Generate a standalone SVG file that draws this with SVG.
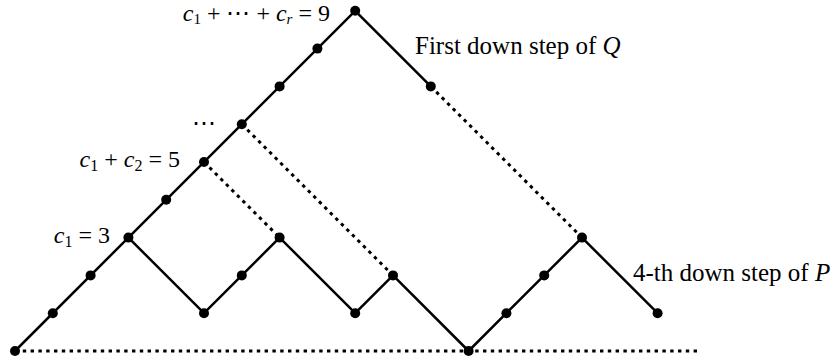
<svg xmlns="http://www.w3.org/2000/svg" width="836" height="363" viewBox="0 0 836 363">
<style>
.solid{fill:none;stroke:#000;stroke-width:2.5;stroke-linejoin:round}
.dot{fill:none;stroke:#000;stroke-width:3;stroke-dasharray:3.4 4.4}
.n{fill:#000}
text{font-family:"Liberation Serif","DejaVu Serif",serif;font-size:24px;fill:#000}
.t{font-size:25px}
.m{font-style:italic}
</style>
<rect width="836" height="363" fill="#fff"/>
<g id="connectors">
<polyline class="solid" points="15,351 128.4,237.6 204,313.2 279.6,237.6 355.2,313.2 393,275.4 468.6,351 582,237.6 657.6,313.2"/>
<polyline class="solid" points="128.4,237.6 355.2,10.8 430.8,86.4"/>
<line class="dot" x1="430.8" y1="86.4" x2="582" y2="237.6"/>
<line class="dot" x1="241.8" y1="124.2" x2="393" y2="275.4"/>
<line class="dot" x1="204" y1="162" x2="279.6" y2="237.6"/>
<line class="dot" x1="15" y1="351" x2="697" y2="351"/>
</g>
<g id="nodes">
<circle id="p0" class="n" cx="15" cy="351" r="5"/>
<circle id="p1" class="n" cx="52.8" cy="313.2" r="5"/>
<circle id="p2" class="n" cx="90.6" cy="275.4" r="5"/>
<circle id="p3" class="n" cx="128.4" cy="237.6" r="5"/>
<circle id="p5" class="n" cx="204" cy="313.2" r="5"/>
<circle id="p6" class="n" cx="241.8" cy="275.4" r="5"/>
<circle id="p7" class="n" cx="279.6" cy="237.6" r="5"/>
<circle id="p9" class="n" cx="355.2" cy="313.2" r="5"/>
<circle id="p10" class="n" cx="393" cy="275.4" r="5"/>
<circle id="p12" class="n" cx="468.6" cy="351" r="5"/>
<circle id="p13" class="n" cx="506.4" cy="313.2" r="5"/>
<circle id="p14" class="n" cx="544.2" cy="275.4" r="5"/>
<circle id="p15" class="n" cx="582" cy="237.6" r="5"/>
<circle id="p17" class="n" cx="657.6" cy="313.2" r="5"/>
<circle id="q4" class="n" cx="166.2" cy="199.8" r="5"/>
<circle id="q5" class="n" cx="204" cy="162" r="5"/>
<circle id="q6" class="n" cx="241.8" cy="124.2" r="5"/>
<circle id="q7" class="n" cx="279.6" cy="86.4" r="5"/>
<circle id="q8" class="n" cx="317.4" cy="48.6" r="5"/>
<circle id="q9" class="n" cx="355.2" cy="10.8" r="5"/>
<circle id="q11" class="n" cx="430.8" cy="86.4" r="5"/>
</g>
<g id="labels">
<text x="110" y="243" text-anchor="end"><tspan class="m">c</tspan><tspan font-size="16" dy="4">1</tspan><tspan dy="-4"> = 3</tspan></text>
<text x="180" y="167" text-anchor="end"><tspan class="m">c</tspan><tspan font-size="16" dy="4">1</tspan><tspan dy="-4"> + </tspan><tspan class="m">c</tspan><tspan font-size="16" dy="4">2</tspan><tspan dy="-4"> = 5</tspan></text>
<text x="203.5" y="131" text-anchor="middle">⋯</text>
<text x="330" y="21" text-anchor="end" font-size="22"><tspan class="m">c</tspan><tspan font-size="15" dy="3">1</tspan><tspan dy="-3"> + ⋯ + </tspan><tspan class="m">c</tspan><tspan class="m" font-size="15" dy="3">r</tspan><tspan dy="-3"> = 9</tspan></text>
<text class="t" x="415" y="54">First down step of <tspan class="m">Q</tspan></text>
<text class="t" x="633" y="281">4-th down step of <tspan class="m">P</tspan></text>
</g>
</svg>
